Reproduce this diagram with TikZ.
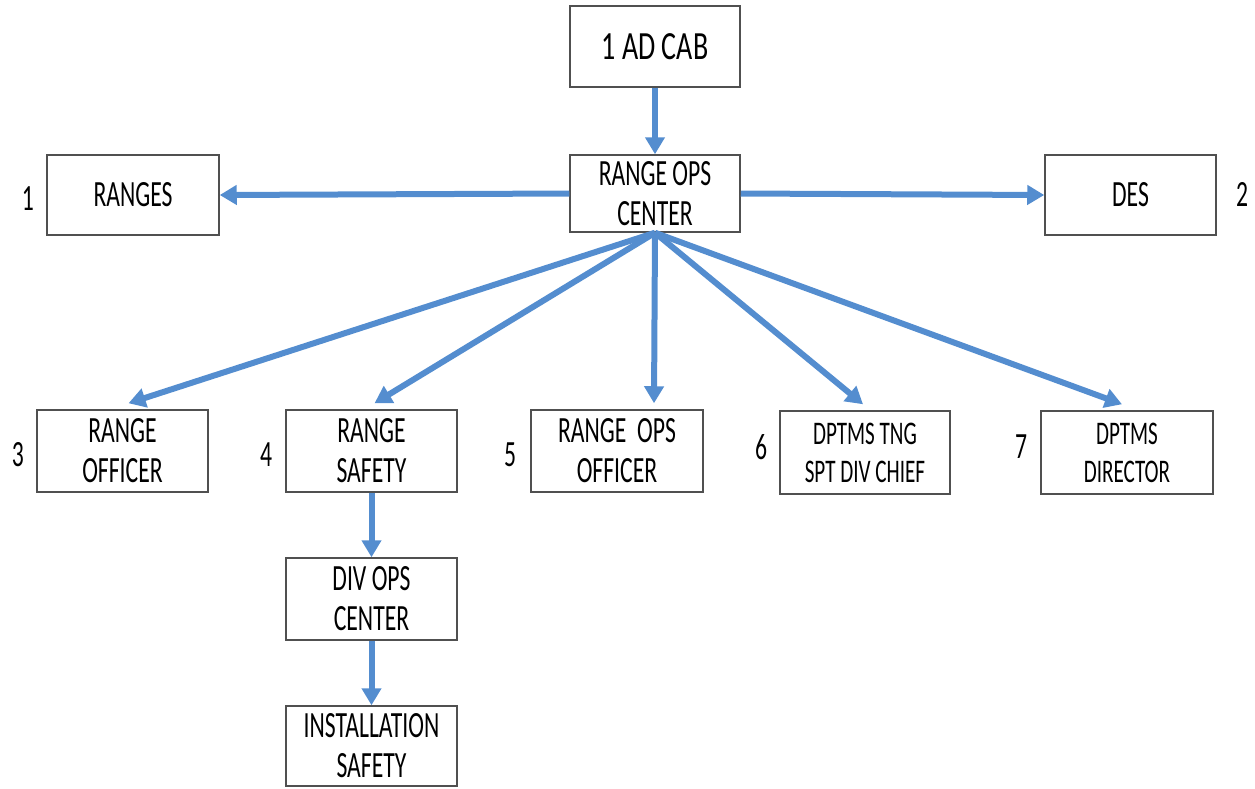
\documentclass[tikz,border=0pt]{standalone}
\usepackage{fontspec}
\setmainfont{Carlito}[FakeStretch=0.64]
\newfontfamily\headfont{Carlito}[FakeStretch=0.7]
\usetikzlibrary{arrows.meta}
\definecolor{flowblue}{RGB}{84,141,207}
\definecolor{boxline}{RGB}{80,80,80}
\tikzset{
  orgbox/.style={draw=boxline, line width=1.5pt, fill=white, inner sep=0pt,
    align=center, font=\fontsize{37}{40}\selectfont},
  smallbox/.style={orgbox, font=\fontsize{33}{38}\selectfont},
  headbox/.style={orgbox, font=\headfont\fontsize{40}{44}\selectfont},
  flow/.style={draw=flowblue, line width=6pt,
    -{Triangle[length=17pt,width=19pt]}},
  tag/.style={font=\fontsize{37}{40}\selectfont, inner sep=0pt}
}
\begin{document}
\begin{tikzpicture}[x=1pt,y=-1pt]
\useasboundingbox (0,0) rectangle (1255,788);

% boxes
\node[headbox, minimum width=170pt, minimum height=81pt] (cab)   at (655,46.5) {1 AD CAB};
\node[orgbox, minimum width=170pt, minimum height=77pt] (roc)    at (655,193.5) {RANGE OPS\\CENTER};
\node[orgbox, minimum width=172pt, minimum height=80pt] (ranges) at (133,195) {RANGES};
\node[orgbox, minimum width=171pt, minimum height=80pt] (des)    at (1130.5,195) {DES};
\node[orgbox, minimum width=171pt, minimum height=82pt] (ro)     at (122.5,451) {RANGE\\OFFICER};
\node[orgbox, minimum width=171pt, minimum height=82pt] (rs)     at (371.5,451) {RANGE\\SAFETY};
\node[orgbox, minimum width=172pt, minimum height=82pt] (roo)    at (617,451) {RANGE\ \ OPS\\OFFICER};
\node[smallbox, minimum width=170pt, minimum height=83pt] (tng)  at (865,452.5) {DPTMS TNG\\SPT DIV CHIEF};
\node[smallbox, minimum width=172pt, minimum height=83pt] (dir)  at (1127,452.5) {DPTMS\\DIRECTOR};
\node[orgbox, minimum width=171pt, minimum height=82pt] (div)    at (371.5,599) {DIV OPS\\CENTER};
\node[orgbox, minimum width=171pt, minimum height=80pt] (inst)   at (371.5,746) {INSTALLATION\\SAFETY};

% numbering
\node[tag] (n1) at (28,199) {1};
\node[tag] (n2) at (1242,194) {2};
\node[tag] (n3) at (18,455) {3};
\node[tag] (n4) at (266,455) {4};
\node[tag] (n5) at (510,455) {5};
\node[tag] (n6) at (761,447) {6};
\node[tag] (n7) at (1021,447) {7};

% connectors
\draw[flow] (cab.south) -- (roc.north);
\draw[flow] (roc.west) -- (ranges.east);
\draw[flow] (roc.east) -- (des.west);
\draw[flow] (roc.south) -- ([xshift=6pt,yshift=6pt]ro.north);
\draw[flow] (roc.south) -- ([xshift=3pt,yshift=6pt]rs.north);
\draw[flow] (roc.south) -- ([xshift=37pt,yshift=6pt]roo.north);
\draw[flow] (roc.south) -- ([xshift=-2pt,yshift=6pt]tng.north);
\draw[flow] (roc.south) -- ([xshift=-5pt,yshift=6pt]dir.north);
\draw[flow] (rs.south) -- (div.north);
\draw[flow] (div.south) -- (inst.north);
\end{tikzpicture}
\end{document}
